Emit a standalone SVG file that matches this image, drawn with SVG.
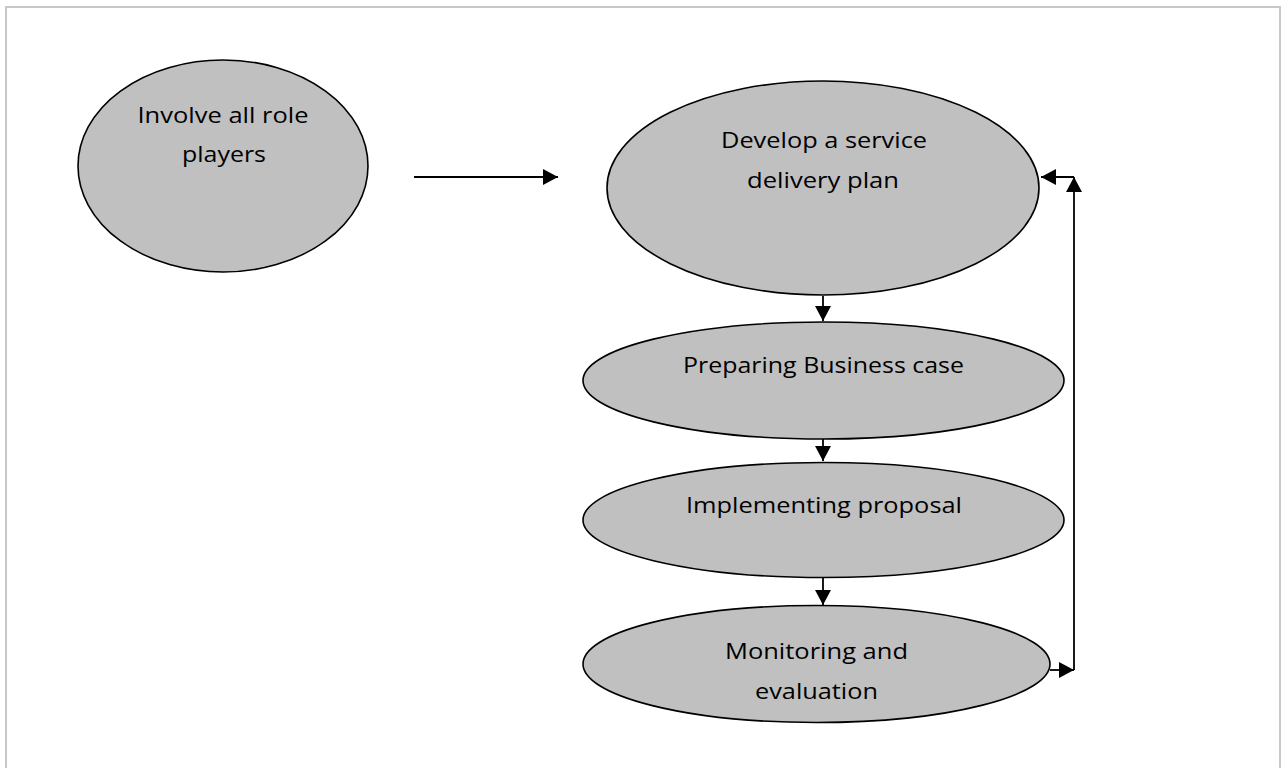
<svg xmlns="http://www.w3.org/2000/svg" width="1287" height="768" viewBox="0 0 1287 768">
<style>
.node ellipse{fill:#c0c0c0;stroke:#000;stroke-width:1.6}
.node text{font-family:"Open Sans","Liberation Sans",sans-serif;font-size:22px;fill:#000;text-anchor:middle}
.conn line{stroke:#000;stroke-width:1.8;fill:none}
</style>
<defs>
<marker id="ah" markerUnits="userSpaceOnUse" markerWidth="16" markerHeight="17" refX="15" refY="8" orient="auto">
<path d="M0,0 L15,8 L0,16 z" fill="#000"/>
</marker>
</defs>
<rect x="6" y="7" width="1274" height="780" fill="#fff" stroke="#c8c8c8" stroke-width="2"/>
<g id="n-involve" class="node">
<ellipse cx="223" cy="166" rx="145" ry="106"/>
<text x="223" y="123" textLength="171" lengthAdjust="spacingAndGlyphs">Involve all role</text>
<text x="224" y="162" textLength="84" lengthAdjust="spacingAndGlyphs">players</text>
</g>
<g id="n-develop" class="node">
<ellipse cx="823" cy="188" rx="216" ry="107"/>
<text x="824" y="148" textLength="206" lengthAdjust="spacingAndGlyphs">Develop a service</text>
<text x="823" y="188" textLength="152" lengthAdjust="spacingAndGlyphs">delivery plan</text>
</g>
<g id="n-business" class="node">
<ellipse cx="823.5" cy="380.5" rx="240.5" ry="58.5"/>
<text x="823.5" y="373" textLength="281" lengthAdjust="spacingAndGlyphs">Preparing Business case</text>
</g>
<g id="n-implement" class="node">
<ellipse cx="823.5" cy="520" rx="240.5" ry="57.5"/>
<text x="824" y="513" textLength="276" lengthAdjust="spacingAndGlyphs">Implementing proposal</text>
</g>
<g id="n-monitor" class="node">
<ellipse cx="816.5" cy="664" rx="233.5" ry="58.5"/>
<text x="816.5" y="659" textLength="183" lengthAdjust="spacingAndGlyphs">Monitoring and</text>
<text x="816.5" y="699" textLength="123" lengthAdjust="spacingAndGlyphs">evaluation</text>
</g>
<g id="connectors" class="conn">
<line x1="414" y1="177" x2="558" y2="177" marker-end="url(#ah)"/>
<line x1="823" y1="296" x2="823" y2="321" marker-end="url(#ah)"/>
<line x1="823" y1="439" x2="823" y2="461" marker-end="url(#ah)"/>
<line x1="823" y1="578" x2="823" y2="605" marker-end="url(#ah)"/>
<line x1="1050" y1="670" x2="1074" y2="670" marker-end="url(#ah)"/>
<line x1="1074" y1="670" x2="1074" y2="177" marker-end="url(#ah)"/>
<line x1="1074" y1="177" x2="1041" y2="177" marker-end="url(#ah)"/>
</g>
</svg>
